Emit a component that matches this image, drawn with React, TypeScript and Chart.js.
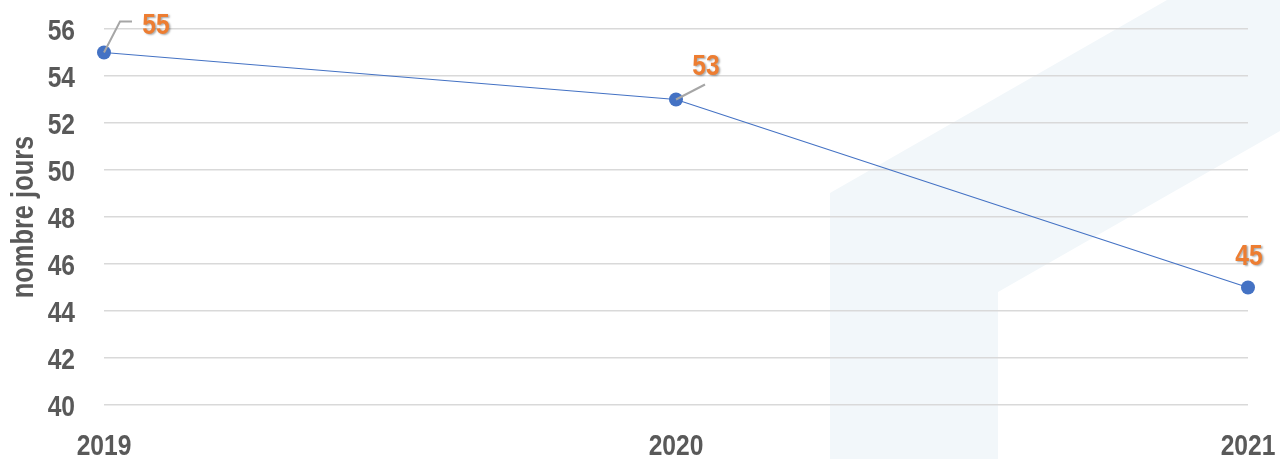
import React, { useEffect, useRef } from "react";
import { Chart, registerables } from "chart.js";

Chart.register(...registerables);

const years = ["2019", "2020", "2021"];
const jours = [55, 53, 45];
const yTicks = [40, 42, 44, 46, 48, 50, 52, 54, 56];
const yTitle = "nombre jours";

const FONT = "'Liberation Sans', Arial, sans-serif";
const NARROW = 0.82; // emulate Arial Narrow
const TEXT_GRAY = "#595959";

// label offsets relative to the point (style only)
const labelStyle = [
  { dx: 52, dy: -19, leader: [[0, 0], [16, -31], [28, -31]] as number[][] | null },
  { dx: 30, dy: -25, leader: [[0, 0], [29, -15]] as number[][] | null },
  { dx: 1, dy: -23, leader: null as number[][] | null },
];

function narrowText(
  ctx: CanvasRenderingContext2D,
  text: string,
  x: number,
  y: number,
  size: number,
  align: CanvasTextAlign,
  color: string,
  rotate = 0
) {
  ctx.save();
  ctx.translate(x, y);
  if (rotate) ctx.rotate(rotate);
  ctx.scale(NARROW, 1);
  ctx.font = `bold ${size}px ${FONT}`;
  ctx.textAlign = align;
  ctx.textBaseline = "alphabetic";
  ctx.fillStyle = color;
  ctx.fillText(text, 0, 0);
  ctx.restore();
}

const backgroundPlugin = {
  id: "bgShape",
  beforeDraw(chart: any) {
    const { ctx, width: w, height: h } = chart;
    const pts = [
      [830 / 1280, 1],
      [830 / 1280, 193 / 459],
      [1167 / 1280, 0],
      [1, 0],
      [1, 131 / 459],
      [998 / 1280, 292 / 459],
      [998 / 1280, 1],
    ];
    ctx.save();
    ctx.fillStyle = "#f2f7fa";
    ctx.beginPath();
    pts.forEach(([px, py], i) => {
      if (i === 0) ctx.moveTo(px * w, py * h);
      else ctx.lineTo(px * w, py * h);
    });
    ctx.closePath();
    ctx.fill();
    ctx.restore();
  },
};

const axisTextPlugin = {
  id: "axisText",
  afterDraw(chart: any) {
    const { ctx, chartArea } = chart;
    const xs = chart.scales.x;
    const ys = chart.scales.y;
    yTicks.forEach((v) => {
      narrowText(ctx, String(v), chartArea.left - 29, ys.getPixelForValue(v) + 11, 30, "right", TEXT_GRAY);
    });
    years.forEach((lab, i) => {
      narrowText(ctx, lab, xs.getPixelForValue(i), chartArea.bottom + 50, 30, "center", TEXT_GRAY);
    });
    narrowText(ctx, yTitle, 33, (chartArea.top + chartArea.bottom) / 2, 31, "center", TEXT_GRAY, -Math.PI / 2);
  },
};

const labelPlugin = {
  id: "valueLabels",
  afterDatasetsDraw(chart: any) {
    const { ctx } = chart;
    const meta = chart.getDatasetMeta(0);
    meta.data.forEach((el: any, i: number) => {
      const st = labelStyle[i];
      const x = el.x;
      const y = el.y;
      ctx.save();
      if (st.leader) {
        ctx.strokeStyle = "#a6a6a6";
        ctx.lineWidth = 2;
        ctx.beginPath();
        st.leader.forEach(([lx, ly], k) => {
          if (k === 0) ctx.moveTo(x + lx, y + ly);
          else ctx.lineTo(x + lx, y + ly);
        });
        ctx.stroke();
      }
      ctx.translate(x + st.dx, y + st.dy);
      ctx.scale(NARROW, 1);
      ctx.font = `bold 30px ${FONT}`;
      ctx.textAlign = "center";
      ctx.textBaseline = "alphabetic";
      ctx.shadowColor = "rgba(0,0,0,0.35)";
      ctx.shadowOffsetX = 1.5;
      ctx.shadowOffsetY = 1.5;
      ctx.shadowBlur = 2;
      ctx.fillStyle = "#ED7D31";
      ctx.fillText(String(jours[i]), 0, 0);
      ctx.restore();
    });
  },
};

export default function App() {
  const ref = useRef<HTMLCanvasElement | null>(null);
  useEffect(() => {
    if (!ref.current) return;
    const chart = new Chart(ref.current, {
      type: "line",
      data: {
        labels: years,
        datasets: [
          {
            data: jours,
            borderColor: "#4472C4",
            borderWidth: 1.2,
            backgroundColor: "#4472C4",
            pointBackgroundColor: "#4472C4",
            pointBorderColor: "#4472C4",
            pointRadius: 7,
            pointBorderWidth: 0,
            tension: 0,
          },
        ],
      },
      options: {
        animation: false,
        responsive: true,
        maintainAspectRatio: false,
        layout: { padding: { top: 29, right: 32, left: 0, bottom: 0 } },
        plugins: { legend: { display: false }, tooltip: { enabled: false } },
        scales: {
          x: {
            type: "category",
            offset: false,
            grid: { display: false, drawTicks: false },
            border: { display: false },
            ticks: { display: false },
            afterFit(scale: any) {
              scale.height = 54;
            },
          },
          y: {
            min: 40,
            max: 56,
            afterBuildTicks(scale: any) {
              scale.ticks = yTicks.map((v) => ({ value: v }));
            },
            grid: { color: "#d9d9d9", lineWidth: 1.5, drawTicks: false },
            border: { display: false },
            ticks: { display: false },
            title: { display: false },
            afterFit(scale: any) {
              scale.width = 104;
            },
          },
        },
      },
      plugins: [backgroundPlugin, axisTextPlugin, labelPlugin],
    } as any);
    return () => chart.destroy();
  }, []);
  return (
    <div style={{ position: "fixed", left: 0, top: 0, width: 1280, height: 459 }}>
      <canvas ref={ref} />
    </div>
  );
}
